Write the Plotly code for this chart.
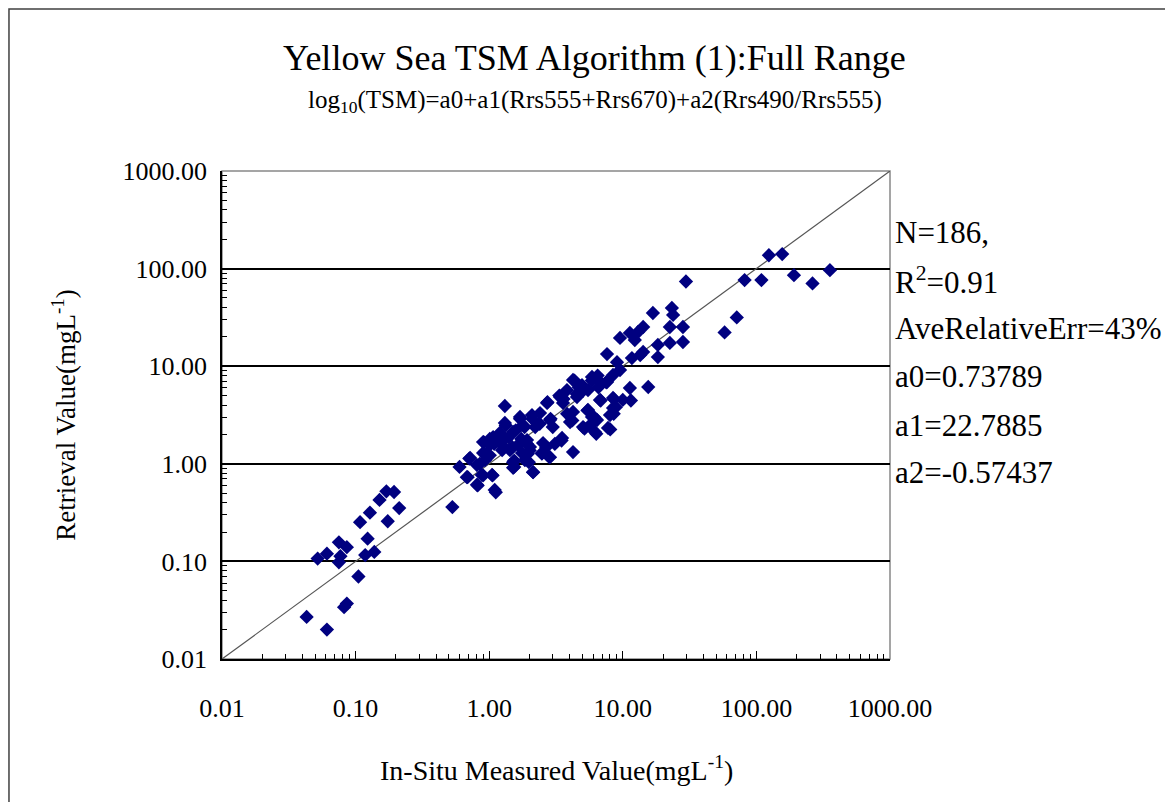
import plotly.graph_objects as go

# ---- data ----
insitu = [
    # low range
    0.043, 0.061, 0.082, 0.086, 0.105, 0.052, 0.061, 0.075, 0.077, 0.075, 0.086,
    0.118, 0.123, 0.138, 0.108, 0.128, 0.174, 0.151, 0.170, 0.194, 0.212,
    # cluster around 1
    1.31, 2.71, 2.40, 1.70, 2.09, 1.31, 1.79, 2.85, 1.20, 1.51, 0.90, 1.07, 1.27,
    1.92, 2.53, 1.01, 1.64, 2.02, 0.90, 1.25, 1.43, 1.76, 2.48, 2.85, 0.72, 0.93,
    1.51, 1.85, 0.60, 0.81, 1.51, 2.13, 0.68, 0.88, 1.05, 0.81, 1.10, 0.53,
    0.71, 0.69, 0.82, 0.85, 0.90, 1.06, 1.12, 0.95, 1.01, 0.91, 1.01, 1.09, 1.17,
    1.26, 1.33, 1.40, 1.49, 1.54, 1.54, 1.58, 1.70, 1.74, 1.84, 1.92, 1.95, 1.98,
    2.01, 2.13, 2.10, 2.21, 2.39, 2.48, 2.67, 2.82, 2.73, 2.88, 2.99, 3.10,
    # cluster around 5
    7.62, 9.05, 9.53, 8.45, 5.88, 6.75, 7.62, 4.24, 4.95, 3.82, 5.49, 3.39, 4.54,
    6.75, 8.45, 10.0, 3.57, 4.24, 8.45, 5.49, 5.88, 6.41, 8.02, 4.03, 5.04, 6.19,
    7.75, 3.51, 4.24,
    3.48, 3.35, 3.60, 3.83, 4.19, 4.35, 4.52, 4.69, 5.05, 5.17, 5.44, 5.65, 5.87,
    6.09, 6.33, 6.48, 6.57, 6.83, 7.52, 8.05, 8.55, 8.55, 8.87,
    # cluster around 20
    16.8, 23.3, 23.8, 22.5, 28.2, 14.2, 13.0, 11.3, 9.53, 12.3, 18.3, 22.5, 28.2,
    14.2, 18.3, 11.7, 13.5, 11.3, 15.5,
    # high range
    11.5, 29.7, 57.8, 71.3, 81.6, 109, 124, 156, 191, 263, 355,
]
retrieval = [
    0.027, 0.020, 0.034, 0.037, 0.070, 0.107, 0.120, 0.157, 0.113, 0.098, 0.140,
    0.116, 0.171, 0.125, 0.252, 0.316, 0.258, 0.426, 0.522, 0.514, 0.352,
    3.91, 4.20, 3.31, 3.02, 3.16, 2.62, 2.50, 2.81, 2.07, 2.12, 1.67, 1.88, 1.75,
    1.75, 1.63, 1.56, 1.56, 1.49, 1.29, 1.38, 1.38, 1.29, 1.29, 1.17, 1.15, 1.09,
    1.04, 1.09, 0.93, 0.97, 0.91, 0.82, 0.73, 0.77, 0.77, 0.61, 0.54, 0.36,
    1.13, 0.73, 0.60, 1.00, 0.76, 0.76, 0.51, 1.27, 1.22, 1.67, 1.80, 1.60, 1.95,
    1.54, 2.47, 1.87, 1.48, 1.08, 0.93, 2.20, 2.89, 1.80, 2.38, 1.60, 1.27, 1.04,
    1.37, 0.82, 2.89, 2.38, 2.57, 1.27, 1.48, 1.17, 4.27, 2.89, 2.38, 1.60,
    13.3, 11.0, 9.14, 8.13, 7.75, 6.89, 6.89, 7.22, 6.41, 5.70, 5.70, 4.83, 4.83,
    4.51, 4.72, 4.51, 4.20, 3.40, 3.73, 3.56, 3.02, 2.81, 3.16, 2.68, 2.38, 2.12,
    2.33, 1.84, 1.32,
    1.73, 5.00, 4.62, 3.25, 2.78, 7.13, 5.20, 6.08, 5.62, 2.29, 3.52, 2.47, 7.13,
    3.01, 2.03, 8.02, 6.08, 4.45, 6.85, 2.25, 3.25, 4.62, 3.80,
    35.1, 39.5, 33.5, 25.2, 25.2, 25.2, 22.4, 21.9, 19.5, 18.5, 16.5, 17.3, 17.7,
    14.0, 12.4, 12.1, 13.0, 5.98, 6.12,
    4.45, 73.8, 22.2, 31.6, 76.2, 76.2, 137, 141, 85.7, 70.5, 96.4,
]
tick_vals = [0.01, 0.1, 1, 10, 100, 1000]
tick_text = ["0.01", "0.10", "1.00", "10.00", "100.00", "1000.00"]
stats_lines = ["N=186,", "R<sup>2</sup>=0.91", "AveRelativeErr=43%",
               "a0=0.73789", "a1=22.7885", "a2=-0.57437"]

FONT = "Times New Roman, Liberation Serif, serif"
minor_vals = [m * 10 ** e for e in range(-2, 3) for m in range(2, 10)]

fig = go.Figure()
fig.add_trace(go.Scatter(x=[0.01, 1000], y=[0.01, 1000], mode="lines",
                         line=dict(color="#555555", width=1.2),
                         hoverinfo="skip", showlegend=False))
fig.add_trace(go.Scatter(x=insitu, y=retrieval, mode="markers",
                         marker=dict(symbol="diamond", size=11, color="#000080",
                                     line=dict(width=0)),
                         showlegend=False))

axis_common = dict(
    type="log", range=[-2, 3], tickmode="array", tickvals=tick_vals,
    ticktext=tick_text, ticks="inside", ticklen=8, tickwidth=1.2,
    tickcolor="black", showline=True, linecolor="black", linewidth=1.5,
    zeroline=False, tickfont=dict(family=FONT, size=26, color="black"),
    minor=dict(tickmode="array", tickvals=minor_vals, ticks="inside",
               ticklen=5, tickwidth=1, tickcolor="black", showgrid=False),
)

fig.update_layout(
    width=1165, height=794,
    margin=dict(l=214, r=283, t=163, b=143),
    paper_bgcolor="white", plot_bgcolor="white",
    font=dict(family=FONT, color="black"),
    xaxis=dict(**axis_common, showgrid=False, ticklabelstandoff=25),
    yaxis=dict(**axis_common, showgrid=True, gridcolor="black", gridwidth=1.5,
               ticklabelstandoff=8),
    showlegend=False,
)

# plot-area border (top/right) and outer frame
fig.add_shape(type="rect", xref="paper", yref="paper", x0=0, y0=0, x1=1, y1=1,
              line=dict(color="#888888", width=1.5), layer="below")
fig.add_shape(type="rect", xref="paper", yref="paper",
              x0=-0.3189, y0=-0.32, x1=1.45, y1=1.332,
              line=dict(color="#404040", width=1.5), layer="below")

ann = []
ann.append(dict(text="Yellow Sea TSM Algorithm (1):Full Range", x=0.558, y=1.2316,
                font=dict(size=36)))
ann.append(dict(text="log<sub>10</sub>(TSM)=a0+a1(Rrs555+Rrs670)+a2(Rrs490/Rrs555)",
                x=0.558, y=1.1414, font=dict(size=25)))
ann.append(dict(text="In-Situ Measured Value(mgL<sup>-1</sup>)", x=0.5, y=-0.2234,
                font=dict(size=28)))
ann.append(dict(text="Retrieval Value(mgL<sup>-1</sup>)", x=-0.237, y=0.5,
                textangle=-90, font=dict(size=27)))
stat_y = [0.875, 0.7766, 0.678, 0.578, 0.4795, 0.383]
for t, yy in zip(stats_lines, stat_y):
    ann.append(dict(text=t, x=1.0045, y=yy, xanchor="left", font=dict(size=31)))
for a in ann:
    a.setdefault("xanchor", "center")
    a.update(xref="paper", yref="paper", yanchor="middle", showarrow=False)
    a["font"].update(family=FONT, color="black")
    fig.add_annotation(**a)

fig.write_html("out.html")
